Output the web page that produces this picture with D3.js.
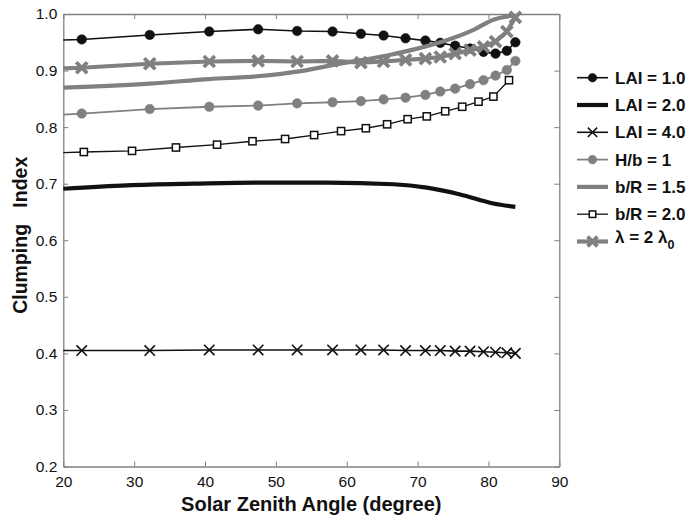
<!DOCTYPE html>
<html>
<head>
<meta charset="utf-8">
<script src="https://cdn.jsdelivr.net/npm/d3@7"></script>
<style>
  html, body { margin: 0; padding: 0; background: #fff; }
  svg { display: block; font-family: "Liberation Sans", Arial, Helvetica, sans-serif; }
</style>
</head>
<body>
<svg id="chart" width="691" height="515"></svg>
<script>
// ---- data ----
// solar zenith angles of the marker series (first entry = left plot edge)
const zenithA = [20, 22.6, 32.2, 40.6, 47.5, 53.0, 58.0, 62.0, 65.2, 68.3, 71.1, 73.2, 75.3, 77.4, 79.3, 81.0, 82.6, 83.8];
const lai1    = [0.954, 0.955, 0.963, 0.969, 0.973, 0.970, 0.969, 0.965, 0.962, 0.957, 0.953, 0.949, 0.944, 0.939, 0.933, 0.930, 0.935, 0.950];
const lai4    = [0.405, 0.405, 0.405, 0.406, 0.406, 0.406, 0.406, 0.406, 0.406, 0.405, 0.405, 0.405, 0.404, 0.404, 0.403, 0.402, 0.401, 0.400];
const hb1     = [0.822, 0.824, 0.832, 0.836, 0.838, 0.842, 0.844, 0.846, 0.849, 0.852, 0.857, 0.863, 0.868, 0.876, 0.883, 0.891, 0.901, 0.917];
const lambda2 = [0.904, 0.905, 0.912, 0.916, 0.917, 0.916, 0.917, 0.914, 0.916, 0.919, 0.921, 0.924, 0.930, 0.936, 0.942, 0.951, 0.969, 0.994];

// zenith angles of the b/R = 2.0 series
const zenithB = [20, 22.9, 29.7, 35.9, 41.7, 46.7, 51.3, 55.4, 59.2, 62.7, 65.7, 68.6, 71.3, 73.9, 76.3, 78.6, 80.7, 82.9];
const br20    = [0.755, 0.756, 0.758, 0.764, 0.769, 0.775, 0.779, 0.786, 0.793, 0.798, 0.805, 0.814, 0.819, 0.828, 0.836, 0.845, 0.854, 0.883];

// smooth curves without markers
const zenithC = [20, 29, 38.4, 47.8, 57.2, 66.6, 71.3, 76.0, 80.7, 83.8];
const lai2    = [0.691, 0.697, 0.700, 0.702, 0.702, 0.699, 0.693, 0.681, 0.665, 0.659];
const zenithD = [20, 32.2, 40.6, 47.4, 53.5, 58.1, 66.2, 69.4, 74.2, 77.9, 80.7, 83.5];
const br15    = [0.870, 0.877, 0.885, 0.890, 0.899, 0.910, 0.928, 0.937, 0.954, 0.972, 0.990, 0.997];

const xTicks = [20, 30, 40, 50, 60, 70, 80, 90];
const yTicks = [0.2, 0.3, 0.4, 0.5, 0.6, 0.7, 0.8, 0.9, 1.0];

// ---- styles ----
const GRAY = "#808080";
const series = [
  { name: "LAI = 1.0", xs: zenithA, ys: lai1,    color: "#111", width: 1.6, marker: "circle", mfill: "#111", curve: d3.curveLinear },
  { name: "LAI = 2.0", xs: zenithC, ys: lai2,    color: "#111", width: 4.2, marker: null,     curve: d3.curveMonotoneX },
  { name: "LAI = 4.0", xs: zenithA, ys: lai4,    color: "#111", width: 1.6, marker: "x",      mstroke: 1.6, msize: 5.2, curve: d3.curveLinear },
  { name: "H/b = 1",   xs: zenithA, ys: hb1,     color: GRAY,   width: 1.8, marker: "circle", mfill: GRAY, curve: d3.curveLinear },
  { name: "b/R = 1.5", xs: zenithD, ys: br15,    color: GRAY,   width: 4.2, marker: null,     curve: d3.curveMonotoneX },
  { name: "b/R = 2.0", xs: zenithB, ys: br20,    color: "#111", width: 1.3, marker: "square", curve: d3.curveLinear },
  { name: "lambda",    xs: zenithA, ys: lambda2, color: GRAY,   width: 4.2, marker: "x",      mstroke: 3.8, msize: 5.5, curve: d3.curveLinear }
];

// ---- layout ----
const svg = d3.select("#chart");
const L = 63.3, R = 559.3, T = 14, B = 466.5;
const x = d3.scaleLinear().domain([20, 90]).range([L, R]);
const y = d3.scaleLinear().domain([0.2, 1.0]).range([B, T]);

// axes (box with inward ticks)
function styleAxis(g) {
  g.selectAll(".domain").attr("stroke", GRAY).attr("stroke-width", 1.3);
  g.selectAll(".tick line").attr("stroke", GRAY).attr("stroke-width", 1);
  g.selectAll(".tick text").attr("fill", "#111").style("font-size", "15.5px");
}
svg.append("g").attr("transform", `translate(0,${B})`)
  .call(d3.axisBottom(x).tickValues(xTicks).tickFormat(d3.format("d")).tickSizeInner(-5).tickSizeOuter(0).tickPadding(9))
  .call(styleAxis);
svg.append("g").attr("transform", `translate(0,${T})`)
  .call(d3.axisTop(x).tickValues(xTicks).tickFormat("").tickSizeInner(-5).tickSizeOuter(0))
  .call(styleAxis);
svg.append("g").attr("transform", `translate(${L},0)`)
  .call(d3.axisLeft(y).tickValues(yTicks).tickFormat(d3.format(".1f")).tickSizeInner(-5).tickSizeOuter(0).tickPadding(6))
  .call(styleAxis);
svg.append("g").attr("transform", `translate(${R},0)`)
  .call(d3.axisRight(y).tickValues(yTicks).tickFormat("").tickSizeInner(-5).tickSizeOuter(0))
  .call(styleAxis);
svg.selectAll("g").attr("font-family", null);

// marker drawing
function drawMarker(g, s, cx, cy, scale) {
  const k = scale || 1;
  if (s.marker === "circle") {
    g.append("circle").attr("cx", cx).attr("cy", cy).attr("r", 4.8 * k)
      .attr("fill", s.mfill).attr("stroke", s.mfill).attr("stroke-width", 0.5);
  } else if (s.marker === "square") {
    const h = 3.6 * k;
    g.append("rect").attr("x", cx - h).attr("y", cy - h).attr("width", 2 * h).attr("height", 2 * h)
      .attr("fill", "#fff").attr("stroke", "#111").attr("stroke-width", 1.5);
  } else if (s.marker === "x") {
    const h = s.msize * k;
    g.append("path")
      .attr("d", `M${cx - h},${cy - h}L${cx + h},${cy + h}M${cx - h},${cy + h}L${cx + h},${cy - h}`)
      .attr("stroke", s.color).attr("stroke-width", s.mstroke).attr("fill", "none");
  }
}

// series
const plot = svg.append("g");
series.forEach(s => {
  const pts = s.xs.map((v, i) => [v, s.ys[i]]);
  const line = d3.line().x(d => x(d[0])).y(d => y(d[1])).curve(s.curve);
  plot.append("path").datum(pts).attr("d", line)
    .attr("fill", "none").attr("stroke", s.color).attr("stroke-width", s.width)
    .attr("stroke-linejoin", "round");
  if (s.marker) {
    const mg = plot.append("g");
    pts.slice(1).forEach(d => drawMarker(mg, s, x(d[0]), y(d[1])));
  }
});

// legend
const lg = svg.append("g");
const lx0 = 577, lx1 = 608, ltx = 615, ly0 = 77.7, lstep = 27.3;
series.forEach((s, i) => {
  const yy = ly0 + i * lstep;
  lg.append("line").attr("x1", lx0).attr("x2", lx1).attr("y1", yy).attr("y2", yy)
    .attr("stroke", s.color).attr("stroke-width", s.width);
  if (s.marker) drawMarker(lg, s, (lx0 + lx1) / 2, yy, 0.9);
  const t = lg.append("text").attr("x", ltx).attr("y", yy).attr("dy", "0.36em")
    .attr("fill", "#111").style("font-size", "17px").style("font-weight", "bold");
  if (s.name === "lambda") {
    t.attr("dy", "0.1em");
    t.append("tspan").text("\u03bb = 2 \u03bb");
    t.append("tspan").attr("dy", "0.5em").style("font-size", "12.5px").text("0");
  } else {
    t.text(s.name);
  }
});

// axis titles
svg.append("text").attr("x", (L + R) / 2).attr("y", 511).attr("text-anchor", "middle")
  .attr("fill", "#111").style("font-size", "20px").style("font-weight", "bold")
  .text("Solar Zenith Angle (degree)");
svg.append("text").attr("transform", `translate(27,${(T + B) / 2 - 5}) rotate(-90)`)
  .attr("text-anchor", "middle").attr("fill", "#111")
  .style("font-size", "19.5px").style("font-weight", "bold").style("white-space", "pre")
  .text("Clumping   Index");
</script>
</body>
</html>
